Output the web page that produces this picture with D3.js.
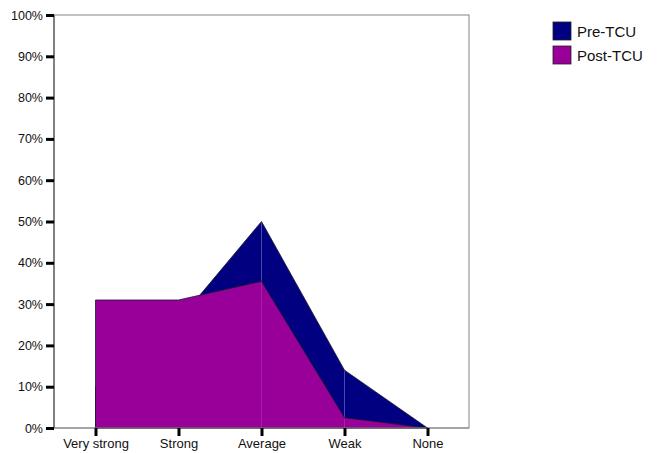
<!DOCTYPE html>
<html>
<head>
<meta charset="utf-8">
<script src="https://cdn.jsdelivr.net/npm/d3@7"></script>
<style>
  html, body { margin: 0; padding: 0; background: #fff; }
  svg { display: block; font-family: Arial, "Liberation Sans", sans-serif; }
</style>
</head>
<body>
<svg id="chart" width="663" height="453"></svg>
<script>
const categories = ["Very strong", "Strong", "Average", "Weak", "None"];
const preTCU = [10, 26, 50, 14, 0];
const postTCU = [31, 31, 35.5, 2.5, 0];
const seriesNames = ["Pre-TCU", "Post-TCU"];
const seriesColors = ["#000080", "#990099"];
const yTicks = [0, 10, 20, 30, 40, 50, 60, 70, 80, 90, 100];

const svg = d3.select("#chart");
const plotL = 54, plotR = 469, plotT = 15, plotB = 428;

const x = d3.scalePoint().domain(categories).range([plotL, plotR]).padding(0.5);
const y = d3.scaleLinear().domain([0, 100]).range([plotB, plotT]);

svg.append("rect")
  .attr("x", plotL).attr("y", plotT)
  .attr("width", plotR - plotL).attr("height", plotB - plotT)
  .attr("fill", "#fff").attr("stroke", "#999").attr("stroke-width", 1.2);

const series = [preTCU, postTCU];
const area = d3.area()
  .x((d, i) => x(categories[i]))
  .y0(y(0))
  .y1(d => y(d));

series.forEach((vals, s) => {
  svg.append("path")
    .datum(vals)
    .attr("d", area)
    .attr("fill", seriesColors[s])
    .attr("stroke", "#1a1a2a")
    .attr("stroke-width", 0.8)
    .attr("stroke-linejoin", "miter");
  vals.forEach((v, i) => {
    if (i === 0 || i === vals.length - 1 || v === vals[i - 1]) return;
    svg.append("line")
      .attr("x1", x(categories[i])).attr("x2", x(categories[i]))
      .attr("y1", y(v) + 1).attr("y2", y(0))
      .attr("stroke", s === 0 ? "#5a5ab0" : "#a52aa5")
      .attr("stroke-width", 0.8);
  });
});

svg.append("line")
  .attr("x1", plotL).attr("x2", plotL).attr("y1", plotT).attr("y2", plotB)
  .attr("stroke", "#555").attr("stroke-width", 1.2);
svg.append("line")
  .attr("x1", plotL).attr("x2", plotR).attr("y1", plotB).attr("y2", plotB)
  .attr("stroke", "#888").attr("stroke-width", 1.2);

const yAxis = d3.axisLeft(y).tickValues(yTicks).tickFormat(d => d + "%").tickSize(8).tickPadding(3);
const gy = svg.append("g").attr("transform", `translate(${plotL},0)`).call(yAxis);
gy.select(".domain").remove();
gy.selectAll(".tick line").attr("stroke", "#000").attr("stroke-width", 3);
gy.selectAll(".tick text").attr("fill", "#111").style("font-size", "12.5px")
  .style("font-family", "Arial, 'Liberation Sans', sans-serif");

const xAxis = d3.axisBottom(x).tickSize(8).tickPadding(3);
const gx = svg.append("g").attr("transform", `translate(0,${plotB})`).call(xAxis);
gx.select(".domain").remove();
gx.selectAll(".tick line").attr("stroke", "#000").attr("stroke-width", 3);
gx.selectAll(".tick text").attr("fill", "#111").style("font-size", "13px")
  .style("font-family", "Arial, 'Liberation Sans', sans-serif");

const legend = svg.append("g");
seriesNames.forEach((name, i) => {
  const g = legend.append("g").attr("transform", `translate(553,${22 + i * 24})`);
  g.append("rect").attr("width", 18).attr("height", 18)
    .attr("fill", seriesColors[i]).attr("stroke", "#222").attr("stroke-width", 0.8);
  g.append("text").attr("x", 24).attr("y", 14.5)
    .attr("fill", "#111").style("font-size", "15px").text(name);
});
</script>
</body>
</html>
